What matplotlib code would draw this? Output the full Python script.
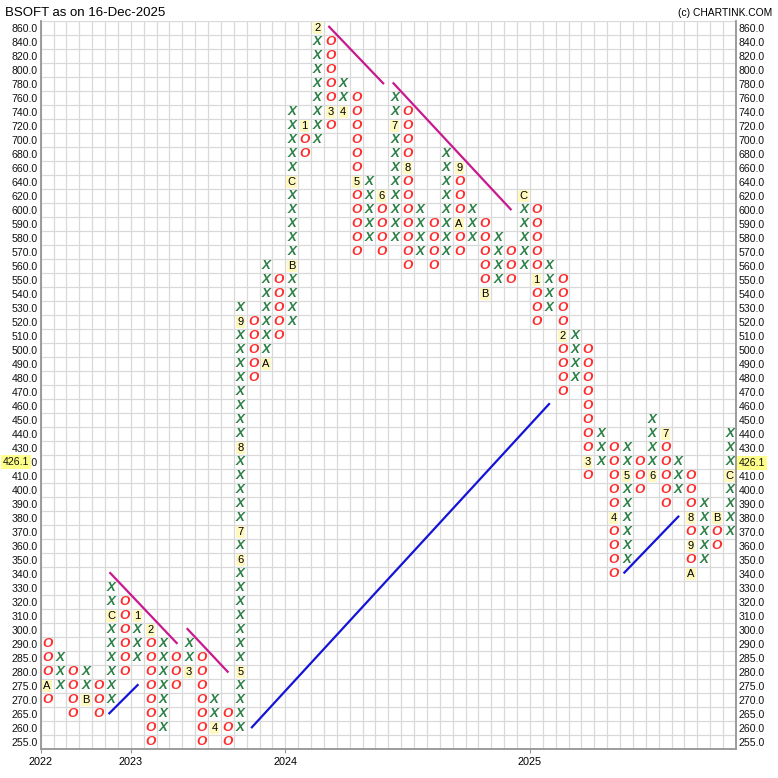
import matplotlib
matplotlib.use("Agg")
import matplotlib.pyplot as plt
import matplotlib.transforms as mtransforms

plt.rcParams['font.family'] = ['Liberation Sans', 'DejaVu Sans']

# price boxes, bottom to top (box size changes with price)
levels = [255, 260, 265, 270, 275, 280, 285, 290,
          300, 310, 320, 330, 340, 350, 360, 370, 380, 390,
          400, 410, 420, 430, 440, 450, 460, 470, 480, 490,
          500, 510, 520, 530, 540, 550, 560, 570, 580, 590, 600,
          620, 640, 660, 680, 700, 720, 740, 760, 780, 800, 820, 840, 860]

# one entry per column: kind, low box, high box
col_kind = ['O', 'X'] * 27
col_low = [270, 275, 265, 270, 265, 270, 280, 285, 255, 260,
           275, 280, 255, 260, 255, 260, 480, 490, 510, 520,
           680, 700, 720, 740, 570, 580, 570, 580, 560, 570,
           560, 570, 570, 580, 540, 550, 550, 560, 520, 530,
           470, 480, 410, 420, 340, 350, 400, 410, 390, 400,
           340, 350, 360, 370]
col_high = [290, 285, 280, 280, 275, 330, 320, 310, 300, 290,
            285, 290, 285, 270, 265, 530, 520, 560, 550, 740,
            720, 860, 840, 780, 760, 640, 620, 760, 740, 600,
            590, 680, 660, 600, 590, 580, 570, 620, 600, 560,
            550, 510, 500, 440, 430, 430, 420, 450, 440, 420,
            410, 390, 380, 440]

# month markers drawn in place of a box (column, price, month code)
month_marks = [(0, 275, 'A'), (3, 270, 'B'), (5, 310, 'C'), (7, 310, '1'),
               (8, 300, '2'), (11, 280, '3'), (13, 260, '4'), (15, 280, '5'),
               (15, 350, '6'), (15, 370, '7'), (15, 430, '8'), (15, 520, '9'),
               (17, 490, 'A'), (19, 560, 'B'), (19, 640, 'C'), (20, 720, '1'),
               (21, 860, '2'), (22, 740, '3'), (23, 740, '4'), (24, 640, '5'),
               (26, 620, '6'), (27, 720, '7'), (28, 660, '8'), (32, 660, '9'),
               (32, 590, 'A'), (34, 540, 'B'), (37, 620, 'C'), (38, 550, '1'),
               (40, 510, '2'), (42, 420, '3'), (44, 380, '4'), (45, 410, '5'),
               (47, 410, '6'), (48, 440, '7'), (50, 380, '8'), (50, 360, '9'),
               (50, 340, 'A'), (52, 380, 'B'), (53, 410, 'C')]

# trend lines in box units: (col0, row0, col1, row1)
down_lines = [(4.9, 12.07, 10.06, 7.07), (10.9, 8.07, 14.02, 5.02),
              (21.9, 51.09, 26.1, 47.05), (26.9, 47.05, 36.0, 38.05)]
up_lines = [(4.83, 2.05, 7.03, 4.07), (15.9, 1.05, 38.98, 24.14),
            (44.83, 12.1, 49.02, 16.1)]

year_cols = [0, 7, 19, 38]
year_labels = ['2022', '2023', '2024', '2025']
last_price = 426.1
last_level = 420

x_color = '#2a7f45'
o_color = '#ff2b2b'

fig = plt.figure(figsize=(7.78, 7.78), dpi=100)
ax = fig.add_axes([40.7 / 778, 29 / 778, 695.3 / 778, 728 / 778])

n_cols = len(col_low)
n_rows = len(levels)
row_of = {p: i for i, p in enumerate(levels)}
marks = {(c, p): m for c, p, m in month_marks}

# grid
for i in range(n_rows + 1):
    ax.axhline(i - 0.5, color='#d9d9d9', lw=0.9, zorder=0)
for j in range(n_cols + 1):
    ax.axvline(j - 0.5, color='#d9d9d9', lw=0.9, zorder=0)

for c in range(n_cols):
    r0, r1 = row_of[col_low[c]], row_of[col_high[c]]
    for r in range(r0, r1 + 1):
        key = (c, levels[r])
        if key in marks:
            ax.text(c, r, marks[key], ha='center', va='center', fontsize=8,
                    color='black', zorder=3,
                    bbox=dict(boxstyle='square,pad=0.12', fc='#fff9bf', ec='none'))
        elif col_kind[c] == 'X':
            ax.text(c, r, 'X', ha='center', va='center', fontsize=9.5,
                    style='italic', weight='bold', color=x_color, zorder=3)
        else:
            ax.text(c, r, 'O', ha='center', va='center', fontsize=9.5,
                    style='italic', weight='bold', color=o_color, zorder=3)

for x0, y0, x1, y1 in down_lines:
    ax.plot([x0, x1], [y0, y1], color='#c8198f', lw=1.6, zorder=4)
for x0, y0, x1, y1 in up_lines:
    ax.plot([x0, x1], [y0, y1], color='#1414d8', lw=1.6, zorder=4)

ax.set_xlim(-0.5, n_cols - 0.5)
ax.set_ylim(-0.5, n_rows - 0.5)

ax.set_yticks(range(n_rows))
ax.set_yticklabels(['%.1f' % p for p in levels])
ax.tick_params(axis='y', length=0, pad=2, labelsize=7.6, labelcolor='#111111')
ax.set_xticks([c - 0.5 for c in year_cols])
ax.set_xticklabels(year_labels)
ax.tick_params(axis='x', length=3, pad=3, labelsize=7.8, color='#999999')

# right side: last price shown in place of its box
ax2 = ax.twinx()
ax2.set_ylim(ax.get_ylim())
ax2.set_yticks(range(n_rows))
right_text = ['%.1f' % (last_price if p == last_level else p) for p in levels]
right_lbls = ax2.set_yticklabels(right_text)
ax2.tick_params(axis='y', length=0, pad=2, labelsize=7.6, labelcolor='#111111')
right_lbls[row_of[last_level]].set_bbox(
    dict(boxstyle='square,pad=0.15', fc='#ffff88', ec='none'))

for a in (ax, ax2):
    for s in ['left', 'bottom', 'right']:
        a.spines[s].set_color('#999999')
        a.spines[s].set_linewidth(1.1)
    a.spines['top'].set_visible(False)

left_tr = mtransforms.blended_transform_factory(fig.transFigure, ax.transData)
ax.text(3 / 778, row_of[last_level], '%.1f' % last_price, transform=left_tr,
        ha='left', va='center', fontsize=7.6, color='#111111', zorder=5,
        bbox=dict(boxstyle='square,pad=0.15', fc='#ffff88', ec='none'), clip_on=False)

fig.text(5 / 778, 1 - 13 / 778, 'BSOFT as on 16-Dec-2025', ha='left', va='center',
         fontsize=9.5)
fig.text(772 / 778, 1 - 13 / 778, '(c) CHARTINK.COM', ha='right', va='center',
         fontsize=7.4)

fig.savefig('out.png', dpi=100)
